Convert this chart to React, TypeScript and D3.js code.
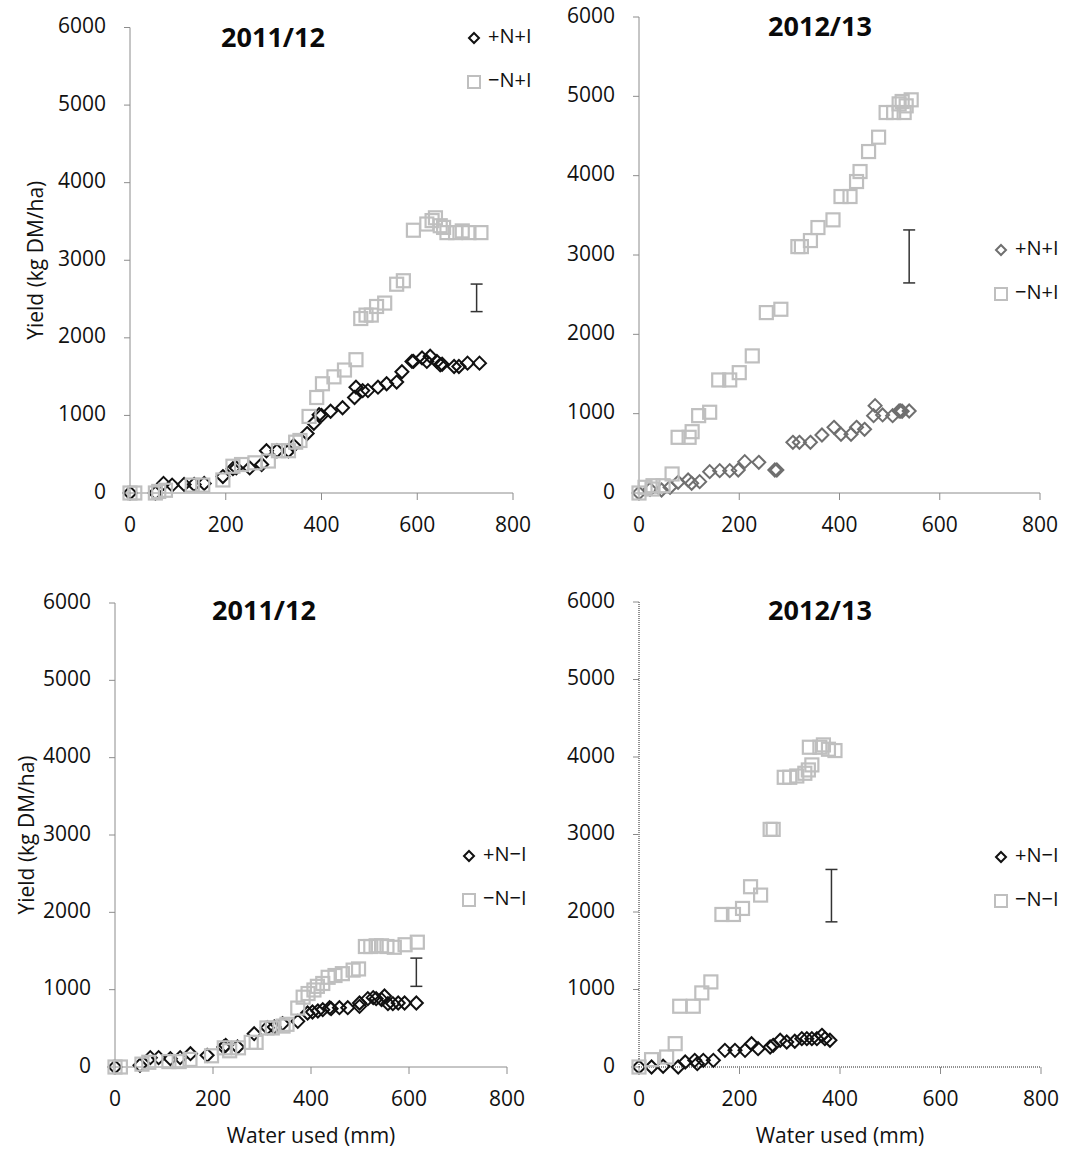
import React from 'react'
import * as d3 from 'd3'

// Water used (mm), yield (kg DM/ha) pairs
const plusNplusI_2011: [number, number][] = [
  [0, 0], [53, 0], [70, 124], [88, 102], [113, 111], [134, 111], [155, 124], [194, 212], [215, 314], [222, 323],
  [250, 323], [275, 367], [285, 545], [307, 545], [331, 545], [342, 611], [370, 766], [384, 899], [395, 1010],
  [400, 1000], [419, 1054], [444, 1099], [469, 1231], [472, 1364], [486, 1320], [497, 1320], [518, 1364],
  [536, 1408], [557, 1430], [568, 1563], [589, 1696], [592, 1696], [610, 1741], [620, 1696], [627, 1763],
  [641, 1696], [648, 1652], [652, 1660], [677, 1630], [687, 1630], [705, 1674], [730, 1674]
]
const minusNplusI_2011: [number, number][] = [
  [0, 0], [10, 0], [53, 0], [60, 20], [74, 35], [130, 102], [152, 102], [194, 168], [215, 345], [233, 367],
  [261, 389], [289, 412], [310, 545], [331, 545], [346, 655], [355, 677], [374, 987], [390, 1231], [402, 1408],
  [426, 1497], [448, 1585], [472, 1718], [482, 2249], [493, 2293], [504, 2293], [515, 2404], [532, 2448],
  [557, 2691], [571, 2736], [592, 3387], [620, 3467], [631, 3511], [638, 3547], [648, 3445], [655, 3423],
  [662, 3356], [680, 3356], [694, 3378], [708, 3356], [733, 3356]
]
const plusNplusI_2012: [number, number][] = [
  [0, 0], [22, 47], [45, 38], [62, 72], [78, 135], [98, 164], [105, 122], [121, 143], [141, 269], [161, 282],
  [181, 282], [198, 290], [211, 395], [239, 387], [271, 290], [275, 290], [307, 639], [320, 639], [342, 639],
  [365, 731], [389, 828], [403, 740], [423, 740], [434, 828], [450, 803], [468, 975], [471, 1101], [486, 984],
  [506, 975], [519, 1034], [522, 1034], [525, 1030], [539, 1034]
]
const minusNplusI_2012: [number, number][] = [
  [0, 0], [12, 72], [26, 50], [28, 92], [48, 92], [66, 240], [78, 702], [100, 702], [106, 773], [119, 975],
  [141, 1018], [159, 1425], [181, 1425], [200, 1517], [226, 1728], [254, 2274], [283, 2316], [317, 3106],
  [324, 3106], [342, 3182], [357, 3346], [387, 3443], [403, 3737], [421, 3737], [434, 3926], [441, 4052],
  [458, 4304], [478, 4485], [493, 4796], [508, 4796], [519, 4905], [525, 4935], [529, 4796], [533, 4880], [543, 4956]
]
const plusNminusI_2011: [number, number][] = [
  [0, 0], [51, 22], [72, 121], [89, 121], [113, 108], [133, 121], [154, 172], [188, 151], [222, 259], [226, 280],
  [250, 259], [284, 431], [311, 509], [325, 517], [342, 560], [373, 590], [393, 698], [403, 711], [414, 724],
  [424, 741], [438, 767], [441, 754], [458, 767], [475, 767], [499, 828], [499, 784], [516, 884], [527, 897],
  [533, 884], [544, 871], [550, 918], [557, 819], [567, 819], [578, 828], [591, 828], [615, 828]
]
const minusNminusI_2011: [number, number][] = [
  [0, 0], [11, 0], [55, 37], [69, 61], [110, 70], [131, 70], [153, 98], [197, 145], [223, 248], [234, 210],
  [252, 248], [278, 318], [288, 318], [310, 505], [321, 505], [343, 529], [351, 552], [373, 762], [384, 903],
  [394, 950], [406, 996], [413, 1043], [424, 1080], [435, 1160], [449, 1183], [464, 1207], [486, 1253],
  [497, 1268], [511, 1558], [522, 1558], [533, 1567], [544, 1567], [555, 1558], [570, 1548], [592, 1581], [617, 1614]
]
const plusNminusI_2012: [number, number][] = [
  [0, 0], [25, 0], [48, 10], [78, 0], [92, 65], [111, 86], [116, 43], [128, 86], [148, 86], [171, 215],
  [191, 215], [211, 215], [224, 301], [237, 237], [261, 258], [267, 280], [281, 345], [294, 323], [310, 332],
  [324, 366], [334, 366], [344, 366], [354, 366], [364, 409], [370, 366], [380, 345]
]
const minusNminusI_2012: [number, number][] = [
  [0, 0], [25, 95], [55, 129], [72, 301], [81, 784], [108, 784], [125, 956], [143, 1098], [165, 1968],
  [188, 1968], [206, 2046], [222, 2326], [242, 2218], [261, 3066], [267, 3066], [289, 3738], [300, 3738],
  [314, 3755], [330, 3790], [337, 3833], [344, 3898], [339, 4126], [360, 4126], [367, 4156], [377, 4100], [390, 4083]
]

// LSD bars: [water, low, high]
const errorBars: [number, number, number][] = [
  [724, 2338, 2693],
  [539, 2648, 3316],
  [615, 1043, 1408],
  [383, 1873, 2549]
]

const xTicks = [0, 200, 400, 600, 800]
const yTicks = [0, 1000, 2000, 3000, 4000, 5000, 6000]
const titles = ['2011/12', '2012/13', '2011/12', '2012/13']
const diamondLabels = ['+N+I', '+N+I', '+N\u2212I', '+N\u2212I']
const squareLabels = ['\u2212N+I', '\u2212N+I', '\u2212N\u2212I', '\u2212N\u2212I']

const FONT = '"Open Sans", "Liberation Sans", sans-serif'
const SQUARE_COLOR = '#bfbfbf'
const TEXT = '#111'

interface PanelLayout {
  x0: number; x1: number; y0: number; y1: number
  legendX: number; legendY: number; titleX: number; titleY: number
  diamondColor: string; dottedAxes: boolean; yLabelX?: number; xLabel: boolean
}

const layouts: PanelLayout[] = [
  { x0: 130, x1: 513, y0: 493, y1: 27.5, legendX: 474, legendY: 38, titleX: 273, titleY: 40, diamondColor: '#111', dottedAxes: false, yLabelX: 37, xLabel: false },
  { x0: 639, x1: 1040, y0: 493, y1: 17, legendX: 1001, legendY: 250, titleX: 820, titleY: 29, diamondColor: '#6f6f6f', dottedAxes: false, xLabel: false },
  { x0: 115, x1: 507, y0: 1067, y1: 603, legendX: 469, legendY: 856, titleX: 264, titleY: 613, diamondColor: '#111', dottedAxes: false, yLabelX: 28, xLabel: true },
  { x0: 639, x1: 1041, y0: 1067, y1: 602, legendX: 1001, legendY: 857, titleX: 820, titleY: 613, diamondColor: '#111', dottedAxes: true, xLabel: true }
]

const panelData = [
  [plusNplusI_2011, minusNplusI_2011],
  [plusNplusI_2012, minusNplusI_2012],
  [plusNminusI_2011, minusNminusI_2011],
  [plusNminusI_2012, minusNminusI_2012]
]

const diamond = (cx: number, cy: number, r: number) =>
  `M${cx},${cy - r}L${cx + r},${cy}L${cx},${cy + r}L${cx - r},${cy}Z`

const Panel: React.FC<{ i: number }> = ({ i }) => {
  const L = layouts[i]
  const [dia, sq] = panelData[i]
  const x = d3.scaleLinear().domain([0, 800]).range([L.x0, L.x1])
  const y = d3.scaleLinear().domain([0, 6000]).range([L.y0, L.y1])
  const axisColor = L.dottedAxes ? '#222' : '#8c8c8c'
  const dash = L.dottedAxes ? '1,1' : undefined
  const [ex, elo, ehi] = errorBars[i]

  return (
    <g fontFamily={FONT}>
      {/* axes */}
      <line x1={L.x0} x2={L.x0} y1={y(6000)} y2={L.y0} stroke={axisColor} strokeDasharray={dash} />
      <line x1={L.x0} x2={L.x1} y1={L.y0} y2={L.y0} stroke={axisColor} strokeDasharray={dash} />
      {yTicks.map(t => (
        <g key={'y' + t}>
          <line x1={L.x0 - 6} x2={L.x0} y1={y(t)} y2={y(t)} stroke="#8c8c8c" />
          <text x={L.x0 - 24} y={y(t)} textAnchor="end" dominantBaseline="middle" fontSize={21} fill={TEXT}>{t}</text>
        </g>
      ))}
      {xTicks.map(t => (
        <g key={'x' + t}>
          <line x1={x(t)} x2={x(t)} y1={L.y0} y2={L.y0 + 7} stroke="#8c8c8c" />
          <text x={x(t)} y={L.y0 + 33} textAnchor="middle" dominantBaseline="middle" fontSize={21} fill={TEXT}>{t}</text>
        </g>
      ))}
      {L.yLabelX !== undefined && (
        <text transform={`translate(${L.yLabelX},${(L.y0 + y(6000)) / 2}) rotate(-90)`} textAnchor="middle"
          dominantBaseline="middle" fontSize={21} fill={TEXT}>Yield (kg DM/ha)</text>
      )}
      {L.xLabel && (
        <text x={(L.x0 + L.x1) / 2} y={1137} textAnchor="middle" dominantBaseline="middle" fontSize={21} fill={TEXT}>Water used (mm)</text>
      )}
      <text x={L.titleX} y={L.titleY} textAnchor="middle" dominantBaseline="middle" fontSize={27} fontWeight="bold" fill="#0a0a0a">{titles[i]}</text>

      {/* series */}
      {dia.map((d, k) => (
        <path key={'d' + k} d={diamond(x(d[0]), y(d[1]), 6.5)} fill="none" stroke={L.diamondColor} strokeWidth={2} />
      ))}
      {sq.map((d, k) => (
        <rect key={'s' + k} x={x(d[0]) - 6.5} y={y(d[1]) - 6.5} width={13} height={13} fill="none" stroke={SQUARE_COLOR} strokeWidth={2.2} />
      ))}

      {/* LSD bar */}
      <g stroke="#333" strokeWidth={1.5}>
        <line x1={x(ex)} x2={x(ex)} y1={y(elo)} y2={y(ehi)} />
        <line x1={x(ex) - 6} x2={x(ex) + 6} y1={y(elo)} y2={y(elo)} />
        <line x1={x(ex) - 6} x2={x(ex) + 6} y1={y(ehi)} y2={y(ehi)} />
      </g>

      {/* legend */}
      <path d={diamond(L.legendX, L.legendY, 5)} fill="none" stroke={L.diamondColor} strokeWidth={2} />
      <text x={L.legendX + 14} y={L.legendY} dominantBaseline="middle" fontSize={20} fill={TEXT}>{diamondLabels[i]}</text>
      <rect x={L.legendX - 6} y={L.legendY + 44 - 6} width={12} height={12} fill="none" stroke={SQUARE_COLOR} strokeWidth={2} />
      <text x={L.legendX + 14} y={L.legendY + 44} dominantBaseline="middle" fontSize={20} fill={TEXT}>{squareLabels[i]}</text>
    </g>
  )
}

export default function App() {
  return (
    <svg width={1073} height={1149} style={{ position: 'absolute', left: 0, top: 0, background: '#fff' }}>
      <rect width={1073} height={1149} fill="#fff" />
      {[0, 1, 2, 3].map(i => <Panel key={i} i={i} />)}
    </svg>
  )
}
